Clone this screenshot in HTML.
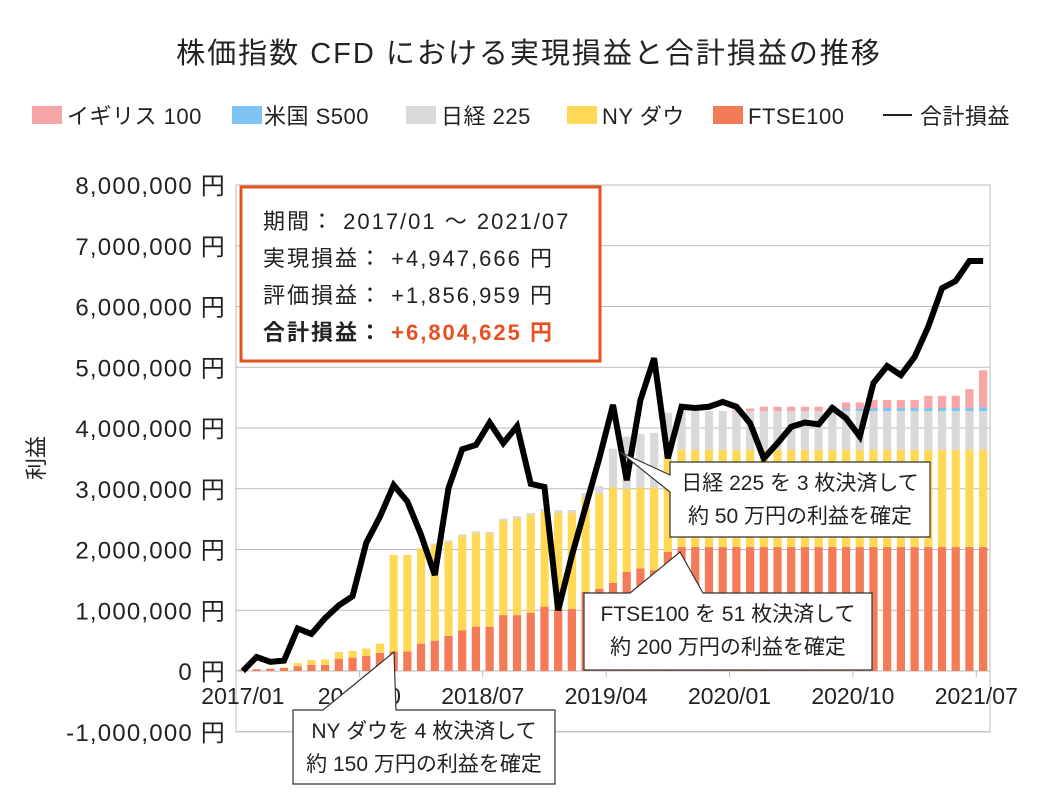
<!DOCTYPE html>
<html><head><meta charset="utf-8">
<style>
body{margin:0;background:#fff;font-family:"Liberation Sans","Noto Sans CJK JP",sans-serif;}
svg text{font-family:"Liberation Sans","Noto Sans CJK JP",sans-serif;}
</style></head>
<body>
<svg id="chart" width="1058" height="794" xmlns="http://www.w3.org/2000/svg">
<text x="529" y="63" font-size="29" text-anchor="middle" fill="#222" letter-spacing="2">株価指数 CFD における実現損益と合計損益の推移</text>
<g font-size="22" fill="#222" letter-spacing="0.5">
<rect x="32" y="106" width="30" height="18" fill="#F8A5A8"/><text x="67" y="124">イギリス 100</text>
<rect x="232" y="106" width="30" height="18" fill="#7FC4F2"/><text x="264" y="124">米国 S500</text>
<rect x="406" y="106" width="30" height="18" fill="#D9D9D9"/><text x="441" y="124">日経 225</text>
<rect x="567" y="106" width="30" height="18" fill="#FFD955"/><text x="602" y="124">NY ダウ</text>
<rect x="713" y="106" width="30" height="18" fill="#F47B57"/><text x="748" y="124">FTSE100</text>
<line x1="883" y1="115" x2="912" y2="115" stroke="#222" stroke-width="2"/><text x="920" y="124">合計損益</text>
</g>
<text transform="translate(44,458) rotate(-90)" font-size="22" text-anchor="middle" fill="#222">利益</text>
<g id="grid"></g><g id="bars"></g><g id="lineg"></g><g id="axes"></g>
<g letter-spacing="2">
<rect x="241" y="187" width="359" height="174" fill="#fff" stroke="#E8501F" stroke-width="3"/>
<text x="263" y="229" font-size="22" fill="#222">期間：  2017/01 ～ 2021/07</text>
<text x="263" y="266" font-size="22" fill="#222">実現損益：  +4,947,666 円</text>
<text x="263" y="303" font-size="22" fill="#222">評価損益：  +1,856,959 円</text>
<text x="263" y="340" font-size="22" fill="#222" font-weight="bold">合計損益：  <tspan fill="#E8501F">+6,804,625 円</tspan></text>
</g>
<g>
<path d="M620,452 L670,475 L670,462 L930,462 L930,537 L670,537 L670,492 Z" fill="#fff" stroke="#333" stroke-width="1.2"/>
<text x="800" y="490" font-size="21" text-anchor="middle" fill="#222">日経 225 を 3 枚決済して</text>
<text x="800" y="523" font-size="21" text-anchor="middle" fill="#222">約 50 万円の利益を確定</text>
</g>
<g>
<path d="M680,552 L703,593 L872,593 L872,670 L584,670 L584,593 L630,593 Z" fill="#fff" stroke="#333" stroke-width="1.2"/>
<text x="728" y="621" font-size="21" text-anchor="middle" fill="#222">FTSE100 を 51 枚決済して</text>
<text x="728" y="654" font-size="21" text-anchor="middle" fill="#222">約 200 万円の利益を確定</text>
</g>
<g>
<path d="M394,652 L323,710 L293,710 L293,784 L555,784 L555,710 L396,710 Z" fill="#fff" stroke="#333" stroke-width="1.2"/>
<text x="424" y="738" font-size="21" text-anchor="middle" fill="#222">NY ダウを 4 枚決済して</text>
<text x="424" y="771" font-size="21" text-anchor="middle" fill="#222">約 150 万円の利益を確定</text>
</g>
</svg>
<script>
// values in millions of yen (per-layer increments)
const months = 55;
const xTickLabels = ["2017/01","2017/10","2018/07","2019/04","2020/01","2020/10","2021/07"];
const yTickValues = [-1,0,1,2,3,4,5,6,7,8];
const ftse = [0.02,0.03,0.04,0.05,0.08,0.10,0.10,0.20,0.22,0.25,0.30,0.32,0.32,0.45,0.50,0.58,0.67,0.73,0.73,0.92,0.92,0.96,1.06,1.02,1.02,1.30,1.35,1.45,1.63,1.69,1.66,1.96,2.04,2.04,2.04,2.04,2.04,2.04,2.04,2.04,2.04,2.04,2.04,2.04,2.04,2.04,2.04,2.04,2.04,2.04,2.04,2.04,2.04,2.04,2.04];
const nydow = [0,0,0,0.01,0.05,0.08,0.09,0.11,0.11,0.12,0.15,1.59,1.59,1.57,1.58,1.54,1.55,1.54,1.53,1.55,1.59,1.60,1.56,1.58,1.58,1.55,1.57,1.57,1.37,1.33,1.36,1.54,1.60,1.60,1.60,1.60,1.60,1.60,1.60,1.60,1.60,1.60,1.60,1.60,1.60,1.60,1.60,1.60,1.60,1.60,1.60,1.60,1.60,1.60,1.60];
const nikkei = [0,0,0,0,0,0,0,0,0,0,0,0,0,0,0.02,0.03,0.03,0.03,0.03,0.04,0.04,0.04,0.05,0.05,0.05,0.08,0.12,0.64,0.86,0.88,0.90,0.75,0.64,0.64,0.64,0.64,0.64,0.64,0.64,0.64,0.64,0.64,0.64,0.64,0.64,0.64,0.64,0.64,0.64,0.64,0.64,0.64,0.64,0.64,0.64];
const us500 = [0,0,0,0,0,0,0,0,0,0,0,0,0,0,0,0,0,0,0,0,0,0,0,0,0,0,0,0,0,0,0,0,0,0,0,0,0,0,0,0,0,0,0,0,0.03,0.04,0.05,0.05,0.05,0.05,0.05,0.05,0.05,0.05,0.06];
const uk100 = [0,0,0,0,0,0,0,0,0,0,0,0,0,0,0,0,0,0,0,0,0,0,0,0,0,0,0,0,0,0,0,0,0,0,0,0,0.02,0.04,0.07,0.07,0.07,0.07,0.07,0.09,0.11,0.10,0.13,0.13,0.13,0.13,0.20,0.20,0.20,0.31,0.61];
const total = [0,0.23,0.15,0.17,0.70,0.61,0.87,1.08,1.23,2.11,2.54,3.06,2.79,2.24,1.58,3.01,3.65,3.72,4.09,3.75,4.03,3.08,3.03,1.0,1.9,2.7,3.5,4.38,3.14,4.46,5.15,3.5,4.35,4.33,4.35,4.43,4.35,4.08,3.5,3.75,4.02,4.09,4.06,4.33,4.16,3.86,4.74,5.02,4.87,5.17,5.67,6.30,6.42,6.75,6.75];

const NS="http://www.w3.org/2000/svg";
const L=236,R=990,Y0=671,PX=60.75;
const bw=(R-L)/months;
function xC(i){return L+bw*(i+0.5);}
function y(v){return Y0-v*PX;}
function mk(tag,attrs,parent){const e=document.createElementNS(NS,tag);for(const k in attrs)e.setAttribute(k,attrs[k]);parent.appendChild(e);return e;}
const grid=document.getElementById('grid'),axes=document.getElementById('axes'),bars=document.getElementById('bars'),lineg=document.getElementById('lineg');
mk('rect',{x:L,y:y(8),width:R-L,height:y(-1)-y(8),fill:'none',stroke:'#bbb','stroke-width':1},grid);
yTickValues.forEach(v=>{
  const g=mk('line',{x1:L,x2:R,y1:y(v),y2:y(v),stroke:'#bbb','stroke-width':1},grid);
  
  
  const t=mk('text',{x:226,y:y(v)+9,'font-size':24,'text-anchor':'end',fill:'#222','letter-spacing':1.2},axes);
  t.textContent=(v*1000000).toLocaleString('en-US')+' 円';
  
  
});
xTickLabels.forEach((s,k)=>{
  const i=k*9;
  const xb=L+bw*i;
  mk('line',{x1:xb,x2:xb,y1:Y0,y2:Y0+6,stroke:'#bbb'},axes);
  const t=mk('text',{x:k==0?xC(0):xb,y:Y0+33,'font-size':23,'text-anchor':'middle',fill:'#222'},axes);
  t.textContent=s;
  
  
});
const series=[[ftse,'#F47B57','ftse'],[nydow,'#FFD955','nydow'],[nikkei,'#D9D9D9','nikkei'],[us500,'#7FC4F2','us500'],[uk100,'#F8A5A8','uk100']];
for(let i=0;i<months;i++){
  let base=0;
  series.forEach(([arr,col,nm])=>{
    const v=arr[i]; if(v<=0)return;
    const r=mk('rect',{x:xC(i)-bw*0.3,width:bw*0.6,y:y(base+v),height:v*PX,fill:col},bars);
    
    
    base+=v;
  });
}
const pl=mk('polyline',{points:total.map((v,i)=>xC(i)+','+y(v)).join(' '),fill:'none',stroke:'#000','stroke-width':6,'stroke-linejoin':'miter'},lineg);


</script>
</body></html>
